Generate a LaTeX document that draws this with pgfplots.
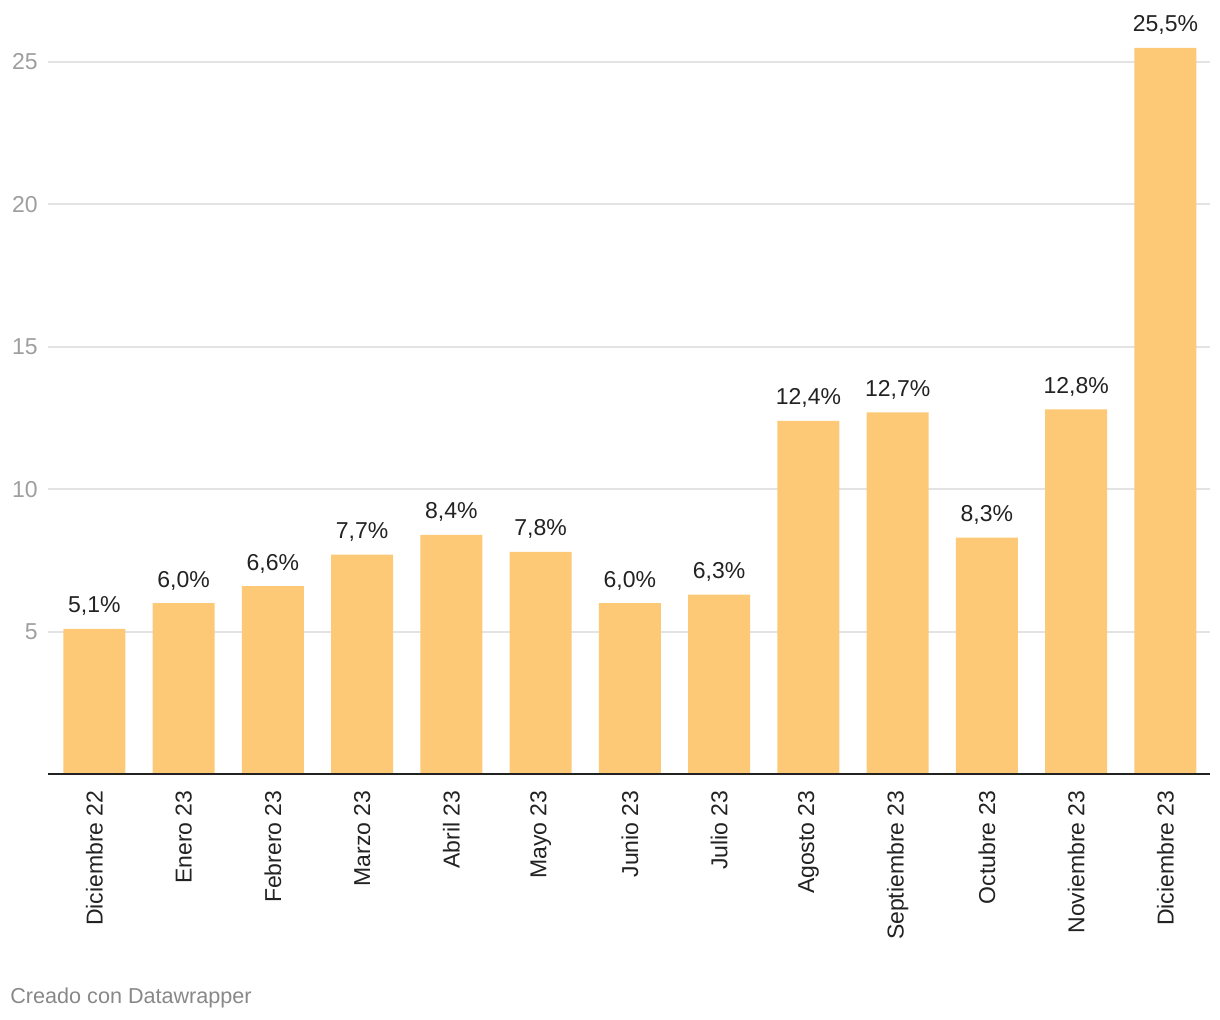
\documentclass[border=0pt]{standalone}
\usepackage{fontspec}
\setmainfont{Liberation Sans}
\usepackage{pgfplots}
\pgfplotsset{compat=1.18}
\definecolor{barc}{HTML}{FDC976}
\definecolor{gridc}{HTML}{E3E3E3}
\definecolor{ytc}{HTML}{9E9E9E}
\definecolor{txt}{HTML}{222222}
\definecolor{foot}{HTML}{888888}
\begin{document}
\begin{tikzpicture}
\useasboundingbox (0,0) rectangle (610pt,510pt);
\begin{axis}[
  at={(24pt,123pt)}, anchor=south west,
  scale only axis, width=581pt, height=370.2pt,
  xmin=-0.52, xmax=12.5, ymin=0, ymax=26,
  axis x line*=bottom, axis y line*=left,
  axis line style={draw=none},
  major tick length=0pt,
  tick style={draw=none},
  ymajorgrids, grid style={gridc, line width=1pt},
  ytick={5,10,15,20,25},
  xtick={0,...,12},
  xticklabels={Diciembre 22,Enero 23,Febrero 23,Marzo 23,Abril 23,Mayo 23,Junio 23,Julio 23,Agosto 23,Septiembre 23,Octubre 23,Noviembre 23,Diciembre 23},
  /pgf/number format/assume math mode=true,
  yticklabel style={font=\fontsize{11.5}{14}\selectfont, text=ytc, anchor=east, inner sep=0pt},
  yticklabel shift=5pt,
  xticklabel style={font=\fontsize{11.5}{14}\selectfont, text=txt, rotate=90, anchor=east, inner sep=0pt},
  xticklabel shift=8pt,
  clip=false,
]
\addplot[ybar, bar width=31pt, fill=barc, draw=none,
  nodes near coords={\pgfmathprintnumber[fixed,fixed zerofill,precision=1,use comma,assume math mode=true]{\pgfplotspointmeta}\%},
  every node near coord/.append style={anchor=base, inner sep=0pt, yshift=8pt, text=txt, font=\fontsize{11.5}{14}\selectfont}
] coordinates {
(0,5.1) (1,6.0) (2,6.6) (3,7.7) (4,8.4) (5,7.8) (6,6.0) (7,6.3) (8,12.4) (9,12.7) (10,8.3) (11,12.8) (12,25.5)
};
\draw[line width=1pt, color=txt] (axis cs:-0.52,0) -- (axis cs:12.5,0);
\end{axis}
\node[anchor=base west, inner sep=0pt, text=foot, font=\fontsize{10.8}{12}\selectfont] at (5pt,8pt) {Creado con Datawrapper};
\end{tikzpicture}
\end{document}
